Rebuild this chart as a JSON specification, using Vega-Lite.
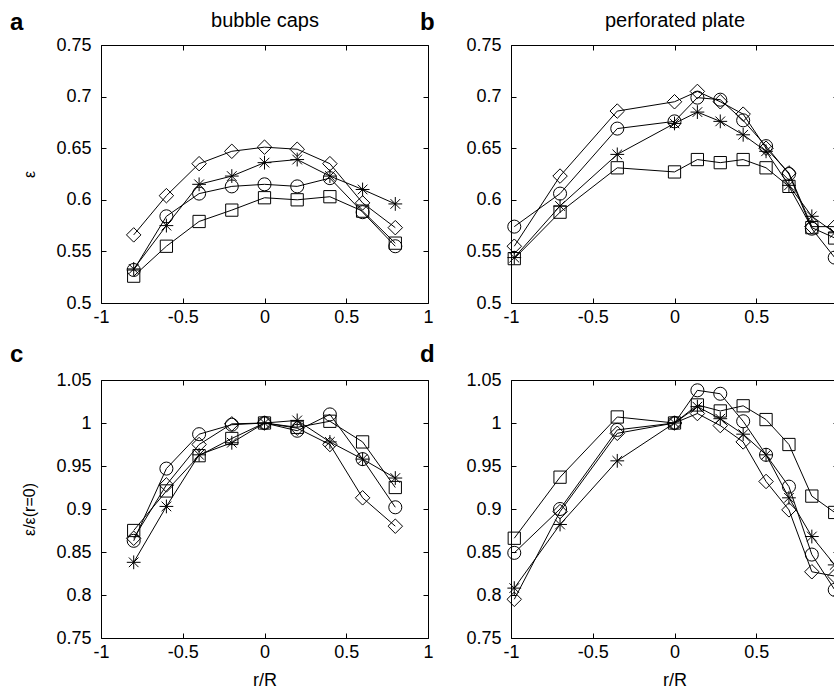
{
  "$schema": "https://vega.github.io/schema/vega-lite/v6.json",
  "background": "white",
  "padding": {"left": 10, "top": 10, "right": 0, "bottom": 0},
  "config": {
    "view": {"stroke": null},
    "font": "Liberation Sans",
    "axis": {
      "grid": false, "domainColor": "black", "tickColor": "black", "labelColor": "black", "titleColor": "black",
      "labelFont": "Liberation Sans", "titleFont": "Liberation Sans", "labelFontSize": 18, "titleFontSize": 18,
      "titleFontWeight": "normal", "tickSize": -5, "labelPadding": 15, "domainWidth": 1, "tickWidth": 1, "labelFlush": false
    },
    "axisX": {"labelPadding": 10},
    "title": {"font": "Liberation Sans", "fontSize": 24, "fontWeight": "bold", "color": "black", "anchor": "start", "frame": "group"}
  },
  "datasets": {
    "pts": [
      {"p":"a","s":"diamond","x":-0.8,"y":0.566},{"p":"a","s":"diamond","x":-0.6,"y":0.604},{"p":"a","s":"diamond","x":-0.4,"y":0.635},{"p":"a","s":"diamond","x":-0.2,"y":0.647},{"p":"a","s":"diamond","x":0,"y":0.651},{"p":"a","s":"diamond","x":0.2,"y":0.649},{"p":"a","s":"diamond","x":0.4,"y":0.635},{"p":"a","s":"diamond","x":0.6,"y":0.597},{"p":"a","s":"diamond","x":0.8,"y":0.573},
      {"p":"a","s":"asterisk","x":-0.8,"y":0.533},{"p":"a","s":"asterisk","x":-0.6,"y":0.575},{"p":"a","s":"asterisk","x":-0.4,"y":0.615},{"p":"a","s":"asterisk","x":-0.2,"y":0.623},{"p":"a","s":"asterisk","x":0,"y":0.636},{"p":"a","s":"asterisk","x":0.2,"y":0.639},{"p":"a","s":"asterisk","x":0.4,"y":0.623},{"p":"a","s":"asterisk","x":0.6,"y":0.61},{"p":"a","s":"asterisk","x":0.8,"y":0.596},
      {"p":"a","s":"circle","x":-0.8,"y":0.532},{"p":"a","s":"circle","x":-0.6,"y":0.584},{"p":"a","s":"circle","x":-0.4,"y":0.606},{"p":"a","s":"circle","x":-0.2,"y":0.613},{"p":"a","s":"circle","x":0,"y":0.615},{"p":"a","s":"circle","x":0.2,"y":0.613},{"p":"a","s":"circle","x":0.4,"y":0.621},{"p":"a","s":"circle","x":0.6,"y":0.588},{"p":"a","s":"circle","x":0.8,"y":0.555},
      {"p":"a","s":"square","x":-0.8,"y":0.526},{"p":"a","s":"square","x":-0.6,"y":0.555},{"p":"a","s":"square","x":-0.4,"y":0.579},{"p":"a","s":"square","x":-0.2,"y":0.59},{"p":"a","s":"square","x":0,"y":0.602},{"p":"a","s":"square","x":0.2,"y":0.6},{"p":"a","s":"square","x":0.4,"y":0.603},{"p":"a","s":"square","x":0.6,"y":0.589},{"p":"a","s":"square","x":0.8,"y":0.558},

      {"p":"b","s":"diamond","x":-0.98,"y":0.555},{"p":"b","s":"diamond","x":-0.7,"y":0.623},{"p":"b","s":"diamond","x":-0.35,"y":0.686},{"p":"b","s":"diamond","x":0,"y":0.695},{"p":"b","s":"diamond","x":0.14,"y":0.705},{"p":"b","s":"diamond","x":0.28,"y":0.695},{"p":"b","s":"diamond","x":0.42,"y":0.683},{"p":"b","s":"diamond","x":0.56,"y":0.65},{"p":"b","s":"diamond","x":0.7,"y":0.626},{"p":"b","s":"diamond","x":0.84,"y":0.574},{"p":"b","s":"diamond","x":0.98,"y":0.574},
      {"p":"b","s":"circle","x":-0.98,"y":0.574},{"p":"b","s":"circle","x":-0.7,"y":0.606},{"p":"b","s":"circle","x":-0.35,"y":0.669},{"p":"b","s":"circle","x":0,"y":0.676},{"p":"b","s":"circle","x":0.14,"y":0.699},{"p":"b","s":"circle","x":0.28,"y":0.697},{"p":"b","s":"circle","x":0.42,"y":0.677},{"p":"b","s":"circle","x":0.56,"y":0.652},{"p":"b","s":"circle","x":0.7,"y":0.625},{"p":"b","s":"circle","x":0.84,"y":0.572},{"p":"b","s":"circle","x":0.98,"y":0.544},
      {"p":"b","s":"asterisk","x":-0.98,"y":0.544},{"p":"b","s":"asterisk","x":-0.7,"y":0.594},{"p":"b","s":"asterisk","x":-0.35,"y":0.644},{"p":"b","s":"asterisk","x":0,"y":0.674},{"p":"b","s":"asterisk","x":0.14,"y":0.685},{"p":"b","s":"asterisk","x":0.28,"y":0.676},{"p":"b","s":"asterisk","x":0.42,"y":0.663},{"p":"b","s":"asterisk","x":0.56,"y":0.647},{"p":"b","s":"asterisk","x":0.7,"y":0.614},{"p":"b","s":"asterisk","x":0.84,"y":0.584},{"p":"b","s":"asterisk","x":0.98,"y":0.568},
      {"p":"b","s":"square","x":-0.98,"y":0.543},{"p":"b","s":"square","x":-0.7,"y":0.588},{"p":"b","s":"square","x":-0.35,"y":0.631},{"p":"b","s":"square","x":0,"y":0.627},{"p":"b","s":"square","x":0.14,"y":0.639},{"p":"b","s":"square","x":0.28,"y":0.636},{"p":"b","s":"square","x":0.42,"y":0.639},{"p":"b","s":"square","x":0.56,"y":0.631},{"p":"b","s":"square","x":0.7,"y":0.613},{"p":"b","s":"square","x":0.84,"y":0.573},{"p":"b","s":"square","x":0.98,"y":0.563},

      {"p":"c","s":"circle","x":-0.8,"y":0.863},{"p":"c","s":"circle","x":-0.6,"y":0.947},{"p":"c","s":"circle","x":-0.4,"y":0.987},{"p":"c","s":"circle","x":-0.2,"y":0.998},{"p":"c","s":"circle","x":0,"y":1.0},{"p":"c","s":"circle","x":0.2,"y":0.991},{"p":"c","s":"circle","x":0.4,"y":1.01},{"p":"c","s":"circle","x":0.6,"y":0.958},{"p":"c","s":"circle","x":0.8,"y":0.902},
      {"p":"c","s":"diamond","x":-0.8,"y":0.866},{"p":"c","s":"diamond","x":-0.6,"y":0.928},{"p":"c","s":"diamond","x":-0.4,"y":0.975},{"p":"c","s":"diamond","x":-0.2,"y":0.999},{"p":"c","s":"diamond","x":0,"y":1.0},{"p":"c","s":"diamond","x":0.2,"y":0.994},{"p":"c","s":"diamond","x":0.4,"y":0.975},{"p":"c","s":"diamond","x":0.6,"y":0.913},{"p":"c","s":"diamond","x":0.8,"y":0.88},
      {"p":"c","s":"asterisk","x":-0.8,"y":0.838},{"p":"c","s":"asterisk","x":-0.6,"y":0.903},{"p":"c","s":"asterisk","x":-0.4,"y":0.963},{"p":"c","s":"asterisk","x":-0.2,"y":0.977},{"p":"c","s":"asterisk","x":0,"y":1.0},{"p":"c","s":"asterisk","x":0.2,"y":1.003},{"p":"c","s":"asterisk","x":0.4,"y":0.978},{"p":"c","s":"asterisk","x":0.6,"y":0.958},{"p":"c","s":"asterisk","x":0.8,"y":0.936},
      {"p":"c","s":"square","x":-0.8,"y":0.875},{"p":"c","s":"square","x":-0.6,"y":0.921},{"p":"c","s":"square","x":-0.4,"y":0.962},{"p":"c","s":"square","x":-0.2,"y":0.982},{"p":"c","s":"square","x":0,"y":1.0},{"p":"c","s":"square","x":0.2,"y":0.995},{"p":"c","s":"square","x":0.4,"y":1.002},{"p":"c","s":"square","x":0.6,"y":0.978},{"p":"c","s":"square","x":0.8,"y":0.925},

      {"p":"d","s":"square","x":-0.98,"y":0.866},{"p":"d","s":"square","x":-0.7,"y":0.937},{"p":"d","s":"square","x":-0.35,"y":1.007},{"p":"d","s":"square","x":0,"y":1.0},{"p":"d","s":"square","x":0.14,"y":1.021},{"p":"d","s":"square","x":0.28,"y":1.014},{"p":"d","s":"square","x":0.42,"y":1.02},{"p":"d","s":"square","x":0.56,"y":1.004},{"p":"d","s":"square","x":0.7,"y":0.975},{"p":"d","s":"square","x":0.84,"y":0.915},{"p":"d","s":"square","x":0.98,"y":0.896},
      {"p":"d","s":"circle","x":-0.98,"y":0.849},{"p":"d","s":"circle","x":-0.7,"y":0.9},{"p":"d","s":"circle","x":-0.35,"y":0.992},{"p":"d","s":"circle","x":0,"y":1.0},{"p":"d","s":"circle","x":0.14,"y":1.038},{"p":"d","s":"circle","x":0.28,"y":1.034},{"p":"d","s":"circle","x":0.42,"y":1.002},{"p":"d","s":"circle","x":0.56,"y":0.963},{"p":"d","s":"circle","x":0.7,"y":0.926},{"p":"d","s":"circle","x":0.84,"y":0.847},{"p":"d","s":"circle","x":0.98,"y":0.806},
      {"p":"d","s":"asterisk","x":-0.98,"y":0.808},{"p":"d","s":"asterisk","x":-0.7,"y":0.882},{"p":"d","s":"asterisk","x":-0.35,"y":0.956},{"p":"d","s":"asterisk","x":0,"y":1.0},{"p":"d","s":"asterisk","x":0.14,"y":1.019},{"p":"d","s":"asterisk","x":0.28,"y":1.005},{"p":"d","s":"asterisk","x":0.42,"y":0.987},{"p":"d","s":"asterisk","x":0.56,"y":0.963},{"p":"d","s":"asterisk","x":0.7,"y":0.913},{"p":"d","s":"asterisk","x":0.84,"y":0.868},{"p":"d","s":"asterisk","x":0.98,"y":0.835},
      {"p":"d","s":"diamond","x":-0.98,"y":0.795},{"p":"d","s":"diamond","x":-0.7,"y":0.897},{"p":"d","s":"diamond","x":-0.35,"y":0.988},{"p":"d","s":"diamond","x":0,"y":1.0},{"p":"d","s":"diamond","x":0.14,"y":1.011},{"p":"d","s":"diamond","x":0.28,"y":0.997},{"p":"d","s":"diamond","x":0.42,"y":0.978},{"p":"d","s":"diamond","x":0.56,"y":0.932},{"p":"d","s":"diamond","x":0.7,"y":0.899},{"p":"d","s":"diamond","x":0.84,"y":0.827},{"p":"d","s":"diamond","x":0.98,"y":0.822}
    ]
  },
  "concat": [
    {
      "title": {"text": "a", "dx": -91, "dy": 28},
      "width": 327, "height": 258,
      "data": {"name": "pts"},
      "transform": [{"filter": "datum.p == 'a'"}],
      "layer": [
        {"mark": {"type": "line", "color": "black", "strokeWidth": 1},
         "encoding": {
           "x": {"field": "x", "type": "quantitative", "scale": {"domain": [-1, 1]}, "axis": {"orient": "bottom", "values": [-1, -0.5, 0, 0.5, 1], "title": null, "labelExpr": "'' + datum.value"}},
           "y": {"field": "y", "type": "quantitative", "scale": {"domain": [0.5, 0.75]}, "axis": {"orient": "left", "values": [0.5, 0.55, 0.6, 0.65, 0.7, 0.75], "title": "ε", "titleFontSize": 16, "titlePadding": 18, "labelExpr": "'' + datum.value"}},
           "detail": {"field": "s"}}},
        {"mark": {"type": "point", "filled": false, "color": "black", "strokeWidth": 1, "opacity": 1},
         "encoding": {
           "x": {"field": "x", "type": "quantitative", "scale": {"domain": [-1, 1]}, "axis": {"orient": "top", "values": [-1, -0.5, 0, 0.5, 1], "labels": false, "title": "bubble caps", "titleFontSize": 20, "titlePadding": 14}},
           "y": {"field": "y", "type": "quantitative", "scale": {"domain": [0.5, 0.75]}, "axis": {"orient": "right", "values": [0.5, 0.55, 0.6, 0.65, 0.7, 0.75], "labels": false, "title": null}},
           "shape": {"field": "s", "type": "nominal", "scale": {"domain": ["diamond", "asterisk", "circle", "square"], "range": ["diamond", "M-1,0L1,0M0,-1L0,1M-0.7,-0.7L0.7,0.7M-0.7,0.7L0.7,-0.7", "circle", "square"]}, "legend": null},
           "size": {"field": "s", "type": "ordinal", "scale": {"domain": ["diamond", "asterisk", "circle", "square"], "range": [210, 150, 141, 121]}, "legend": null}}}
      ],
      "resolve": {"axis": {"x": "independent", "y": "independent"}}
    },
    {
      "title": {"text": "b", "dx": -91, "dy": 28},
      "width": 327, "height": 258,
      "data": {"name": "pts"},
      "transform": [{"filter": "datum.p == 'b'"}],
      "layer": [
        {"mark": {"type": "line", "color": "black", "strokeWidth": 1},
         "encoding": {
           "x": {"field": "x", "type": "quantitative", "scale": {"domain": [-1, 1]}, "axis": {"orient": "bottom", "values": [-1, -0.5, 0, 0.5, 1], "title": null, "labelExpr": "'' + datum.value"}},
           "y": {"field": "y", "type": "quantitative", "scale": {"domain": [0.5, 0.75]}, "axis": {"orient": "left", "values": [0.5, 0.55, 0.6, 0.65, 0.7, 0.75], "title": null, "labelExpr": "'' + datum.value"}},
           "detail": {"field": "s"}}},
        {"mark": {"type": "point", "filled": false, "color": "black", "strokeWidth": 1, "opacity": 1},
         "encoding": {
           "x": {"field": "x", "type": "quantitative", "scale": {"domain": [-1, 1]}, "axis": {"orient": "top", "values": [-1, -0.5, 0, 0.5, 1], "labels": false, "title": "perforated plate", "titleFontSize": 20, "titlePadding": 14}},
           "y": {"field": "y", "type": "quantitative", "scale": {"domain": [0.5, 0.75]}, "axis": {"orient": "right", "values": [0.5, 0.55, 0.6, 0.65, 0.7, 0.75], "labels": false, "title": null}},
           "shape": {"field": "s", "type": "nominal", "scale": {"domain": ["diamond", "asterisk", "circle", "square"], "range": ["diamond", "M-1,0L1,0M0,-1L0,1M-0.7,-0.7L0.7,0.7M-0.7,0.7L0.7,-0.7", "circle", "square"]}, "legend": null},
           "size": {"field": "s", "type": "ordinal", "scale": {"domain": ["diamond", "asterisk", "circle", "square"], "range": [210, 150, 141, 121]}, "legend": null}}}
      ],
      "resolve": {"axis": {"x": "independent", "y": "independent"}}
    },
    {
      "title": {"text": "c", "dx": -91, "dy": 0},
      "width": 327, "height": 258,
      "data": {"name": "pts"},
      "transform": [{"filter": "datum.p == 'c'"}],
      "layer": [
        {"mark": {"type": "line", "color": "black", "strokeWidth": 1},
         "encoding": {
           "x": {"field": "x", "type": "quantitative", "scale": {"domain": [-1, 1]}, "axis": {"orient": "bottom", "values": [-1, -0.5, 0, 0.5, 1], "title": "r/R", "titlePadding": 10, "labelExpr": "'' + datum.value"}},
           "y": {"field": "y", "type": "quantitative", "scale": {"domain": [0.75, 1.05]}, "axis": {"orient": "left", "values": [0.75, 0.8, 0.85, 0.9, 0.95, 1, 1.05], "title": "ε/ε(r=0)", "titleFontSize": 16, "titlePadding": 18, "labelExpr": "'' + datum.value"}},
           "detail": {"field": "s"}}},
        {"mark": {"type": "point", "filled": false, "color": "black", "strokeWidth": 1, "opacity": 1},
         "encoding": {
           "x": {"field": "x", "type": "quantitative", "scale": {"domain": [-1, 1]}, "axis": {"orient": "top", "values": [-1, -0.5, 0, 0.5, 1], "labels": false, "title": null}},
           "y": {"field": "y", "type": "quantitative", "scale": {"domain": [0.75, 1.05]}, "axis": {"orient": "right", "values": [0.75, 0.8, 0.85, 0.9, 0.95, 1, 1.05], "labels": false, "title": null}},
           "shape": {"field": "s", "type": "nominal", "scale": {"domain": ["diamond", "asterisk", "circle", "square"], "range": ["diamond", "M-1,0L1,0M0,-1L0,1M-0.7,-0.7L0.7,0.7M-0.7,0.7L0.7,-0.7", "circle", "square"]}, "legend": null},
           "size": {"field": "s", "type": "ordinal", "scale": {"domain": ["diamond", "asterisk", "circle", "square"], "range": [210, 150, 141, 121]}, "legend": null}}}
      ],
      "resolve": {"axis": {"x": "independent", "y": "independent"}}
    },
    {
      "title": {"text": "d", "dx": -91, "dy": 0},
      "width": 327, "height": 258,
      "data": {"name": "pts"},
      "transform": [{"filter": "datum.p == 'd'"}],
      "layer": [
        {"mark": {"type": "line", "color": "black", "strokeWidth": 1},
         "encoding": {
           "x": {"field": "x", "type": "quantitative", "scale": {"domain": [-1, 1]}, "axis": {"orient": "bottom", "values": [-1, -0.5, 0, 0.5, 1], "title": "r/R", "titlePadding": 10, "labelExpr": "'' + datum.value"}},
           "y": {"field": "y", "type": "quantitative", "scale": {"domain": [0.75, 1.05]}, "axis": {"orient": "left", "values": [0.75, 0.8, 0.85, 0.9, 0.95, 1, 1.05], "title": null, "labelExpr": "'' + datum.value"}},
           "detail": {"field": "s"}}},
        {"mark": {"type": "point", "filled": false, "color": "black", "strokeWidth": 1, "opacity": 1},
         "encoding": {
           "x": {"field": "x", "type": "quantitative", "scale": {"domain": [-1, 1]}, "axis": {"orient": "top", "values": [-1, -0.5, 0, 0.5, 1], "labels": false, "title": null}},
           "y": {"field": "y", "type": "quantitative", "scale": {"domain": [0.75, 1.05]}, "axis": {"orient": "right", "values": [0.75, 0.8, 0.85, 0.9, 0.95, 1, 1.05], "labels": false, "title": null}},
           "shape": {"field": "s", "type": "nominal", "scale": {"domain": ["diamond", "asterisk", "circle", "square"], "range": ["diamond", "M-1,0L1,0M0,-1L0,1M-0.7,-0.7L0.7,0.7M-0.7,0.7L0.7,-0.7", "circle", "square"]}, "legend": null},
           "size": {"field": "s", "type": "ordinal", "scale": {"domain": ["diamond", "asterisk", "circle", "square"], "range": [210, 150, 141, 121]}, "legend": null}}}
      ],
      "resolve": {"axis": {"x": "independent", "y": "independent"}}
    }
  ],
  "columns": 2,
  "bounds": "flush",
  "spacing": {"row": 77, "column": 83}
}
